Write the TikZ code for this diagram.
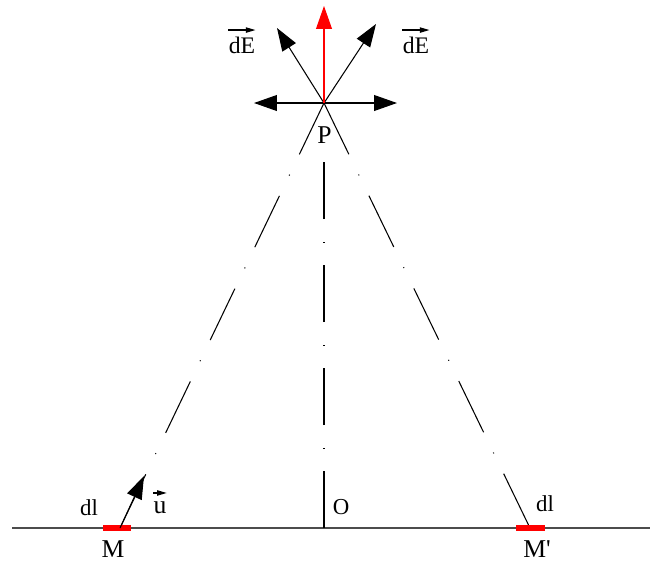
\documentclass[tikz,border=0pt]{standalone}
\usepackage{fontspec}
\setmainfont{Liberation Serif}
\usetikzlibrary{arrows.meta}

\tikzset{
  field/.style={-{Triangle[length=13pt,width=9pt]},line width=0.6pt},
  vecbar/.style={-{Triangle[length=5.5pt,width=3pt]},line width=0.7pt},
  axisline/.style={line width=0.6pt,dash pattern=on 1.14cm off 0.45cm on 0.02cm off 0.45cm},
  element/.style={red,line width=3.7pt},
  biglbl/.style={font=\fontsize{14.6}{16}\selectfont,anchor=base,inner sep=0pt},
  midlbl/.style={font=\fontsize{13}{15}\selectfont,anchor=base,inner sep=0pt},
  veclbl/.style={font=\fontsize{13.5}{15}\selectfont,anchor=base,inner sep=0pt}
}

\begin{document}
\begin{tikzpicture}[x=0.02cm,y=-0.02cm]
\useasboundingbox (0,0) rectangle (650,562);
% points of the figure
\coordinate (P) at (324,103);
\coordinate (O) at (324,528);
\coordinate (M) at (120,528);
\coordinate (Mp) at (530,528);
\coordinate (axtop) at (324,160);
\coordinate (lineL) at (12,528);
\coordinate (lineR) at (650,528);
\coordinate (Mleft) at (103,528);
\coordinate (Mright) at (131,528);
\coordinate (Mpleft) at (516,528);
\coordinate (Mpright) at (545,528);
% tips of the field vectors
\coordinate (Eup) at (324,6);
\coordinate (EL) at (277,28);
\coordinate (ER) at (376,24);
\coordinate (Eleft) at (254,103);
\coordinate (Eright) at (397,103);
\coordinate (utip) at (144,476);

% wire and construction lines
\draw[line width=0.6pt,black!70] (lineL) -- (lineR);
\draw[axisline] (O) -- (axtop);
\draw[axisline] (P) -- (M);
\draw[axisline] (P) -- (Mp);

% current elements
\draw[element] (Mleft) -- (Mright);
\draw[element] (Mpleft) -- (Mpright);

% field at P
\draw[field] (P) -- (EL);
\draw[field] (P) -- (ER);
\draw[field] (P) -- (Eleft);
\draw[field] (P) -- (Eright);
\draw[field,red] (P) -- (Eup);
\draw[field] (M) -- (utip);

% labels
\node[veclbl] (dEL) at (242,53) {dE};
\node[veclbl] (dER) at (416,53) {dE};
\node[biglbl] (lP) at (324.5,143) {P};
\node[biglbl] (lM) at (113,557) {M};
\node[biglbl] (lMp) at (537,557) {M\textquotesingle};
\node[midlbl] (dlL) at (89,515) {dl};
\node[midlbl] (dlR) at (545,511.5) {dl};
\node[biglbl] (lu) at (160,513) {u};
\node[midlbl] (lO) at (341,514) {O};
% vector bars over the labels
\draw[vecbar] ([yshift=3.5pt]dEL.north west) -- ([yshift=3.5pt]dEL.north east);
\draw[vecbar] ([yshift=3.5pt]dER.north west) -- ([yshift=3.5pt]dER.north east);
\draw[vecbar] ([yshift=4.5pt]lu.north west) -- ([yshift=4.5pt]lu.north east);
\end{tikzpicture}
\end{document}
